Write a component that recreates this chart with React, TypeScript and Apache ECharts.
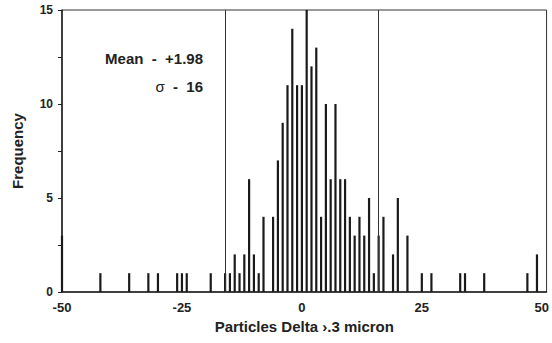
import React, { useEffect, useRef } from 'react';
import * as echarts from 'echarts';

// Particle count delta (x) and frequency (y)
const deltaValues = [
  -50, -42, -36, -32, -30, -26, -25, -24, -19, -16, -15, -14, -13, -12, -11, -10, -9, -8,
  -6, -5, -4, -3, -2, -1, 0, 1, 2, 3, 4, 5, 6, 7, 8, 9, 10, 11, 12, 13, 14, 15, 16, 17,
  19, 20, 22, 25, 27, 33, 34, 38, 47, 49,
];
const frequencies = [
  3, 1, 1, 1, 1, 1, 1, 1, 1, 1, 1, 2, 1, 2, 6, 2, 1, 4,
  4, 7, 9, 11, 14, 11, 11, 15, 12, 13, 4, 10, 6, 10, 6, 6, 4, 3, 4, 3, 5, 1, 3, 4,
  2, 5, 3, 1, 1, 1, 1, 1, 1, 2,
];
const sigmaLines = [-16, 16];
const xTickLabels = [-50, -25, 0, 25, 50];
const yTickLabels = [0, 5, 10, 15];
const meanText = 'Mean  -  +1.98';
const sigmaText = '16';

export default function App() {
  const ref = useRef<HTMLDivElement>(null);
  useEffect(() => {
    const chart = echarts.init(ref.current!, null, { renderer: 'svg' });
    const font = 'Liberation Sans, Arial, Helvetica, sans-serif';
    chart.setOption({
      animation: false,
      backgroundColor: '#ffffff',
      textStyle: { fontFamily: font },
      grid: {
        left: 62,
        right: 4,
        top: 10,
        bottom: 51,
        show: true,
        borderColor: '#333',
        borderWidth: 1,
      },
      xAxis: {
        type: 'value',
        min: -50,
        max: 51,
        interval: 25,
        splitLine: { show: false },
        axisTick: { show: false },
        axisLine: { onZero: false, lineStyle: { color: '#222', width: 1.5 } },
        axisLabel: {
          color: '#222',
          fontWeight: 'bold',
          fontSize: 13,
          fontFamily: font,
          margin: 9,
          formatter: (v: number) => (xTickLabels.includes(v) ? String(v) : ''),
        },
        name: 'Particles Delta ›.3 micron',
        nameLocation: 'middle',
        nameGap: 26,
        nameTextStyle: { color: '#222', fontWeight: 'bold', fontSize: 15, fontFamily: font },
      },
      yAxis: {
        type: 'value',
        min: 0,
        max: 15,
        interval: 2.5,
        splitLine: { show: false },
        axisTick: { show: true, length: 4, lineStyle: { color: '#222', width: 1 } },
        axisLine: { show: true, onZero: false, lineStyle: { color: '#222', width: 1.5 } },
        axisLabel: {
          color: '#222',
          fontWeight: 'bold',
          fontSize: 12,
          fontFamily: font,
          margin: 9,
          formatter: (v: number) => (yTickLabels.includes(v) ? String(v) : ''),
        },
        name: 'Frequency',
        nameLocation: 'middle',
        nameGap: 37,
        nameTextStyle: { color: '#222', fontWeight: 'bold', fontSize: 15, fontFamily: font },
      },
      series: [
        {
          type: 'bar',
          barWidth: 2.2,
          clip: false,
          itemStyle: { color: '#1a1a1a' },
          data: deltaValues.map((x, i) => [x, frequencies[i]]),
          markLine: {
            silent: true,
            symbol: 'none',
            label: { show: false },
            lineStyle: { color: '#333', width: 1, type: 'solid' },
            data: sigmaLines.map((v) => ({ xAxis: v })),
          },
        },
      ],
      graphic: [
        {
          type: 'text',
          right: 552 - 203,
          top: 51,
          style: {
            text: meanText,
            fill: '#222',
            font: `bold 15px ${font}`,
            align: 'right',
          },
        },
        {
          type: 'text',
          right: 552 - 203,
          top: 79,
          style: {
            text: `{s|σ}  -  {b|${sigmaText}}`,
            fill: '#222',
            font: `bold 15px ${font}`,
            rich: {
              s: { fontSize: 15, fontWeight: 'normal', fontFamily: font, fill: '#222' },
              b: { fontSize: 15, fontWeight: 'bold', fontFamily: font, fill: '#222' },
            },
          },
        },
      ],
    });
    return () => chart.dispose();
  }, []);
  return (
    <div
      ref={ref}
      style={{ position: 'absolute', left: 0, top: 0, width: 552, height: 343 }}
    />
  );
}
